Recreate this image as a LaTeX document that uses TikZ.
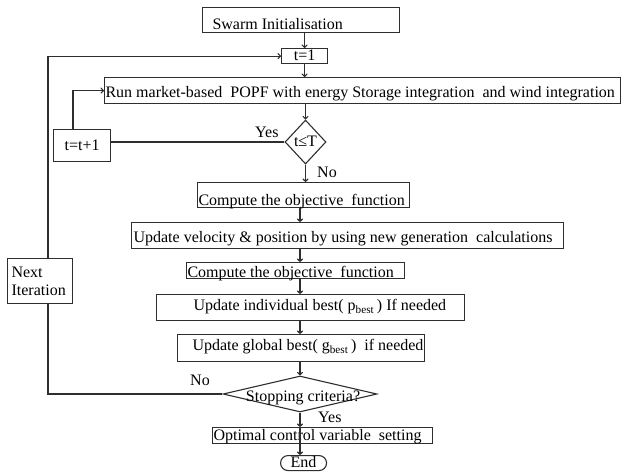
\documentclass[tikz,border=0pt]{standalone}
\usepackage{fontspec}
\setmainfont{Liberation Serif}
\usetikzlibrary{arrows.meta,shapes.geometric,calc}
\definecolor{linec}{HTML}{2E2E2E}
\begin{document}
\begin{tikzpicture}[x=1pt,y=-1pt,
  every node/.style={font=\fontsize{16}{18}\selectfont},
  box/.style={draw=linec, line width=1.1pt, anchor=north west, inner ysep=0pt, inner xsep=1pt},
  tb/.style 2 args={text height=#1pt, text depth=#2pt},
  arr/.style={draw=linec, line width=1.1pt, -{To[length=3.5pt,width=6pt]}},
  ln/.style={draw=linec, line width=1.1pt},
  lab/.style={inner sep=0pt, anchor=base west}]
\useasboundingbox (0,0) rectangle (622,472);
% boxes
\node[box, minimum width=197pt, minimum height=25pt, tb={22}{3}] (swarm) at (202,7) {\makebox[195pt][l]{\hspace*{9pt}Swarm Initialisation}};
\node[box, minimum width=46pt, minimum height=15pt, inner xsep=0pt, tb={12}{3}] (t1) at (281,48) {t=1};
\node[box, minimum width=516pt, minimum height=26pt, tb={19.7}{6.3}] (run) at (104,77) {\makebox[514pt][l]{Run market-based\ \ POPF with energy Storage integration\ \ and wind integration}};
\node[diamond, draw=linec, line width=1.1pt, minimum width=41pt, minimum height=44pt, inner sep=0pt, tb={10}{0.6}] (cond) at (305.5,142) {t≤T};
\node[box, minimum width=57pt, minimum height=32pt, inner xsep=0pt, tb={21}{11}] (tt) at (53,129) {t=t+1};
\node[box, minimum width=212pt, minimum height=25pt, tb={22.5}{2.5}] (comp1) at (197,182) {\makebox[210pt][l]{Compute the objective\ \ function}};
\node[box, minimum width=432pt, minimum height=26pt, tb={19.7}{6.3}] (vel) at (131,222) {\makebox[430pt][l]{\hspace*{1pt}Update velocity \& position by using new generation\ \ calculations}};
\node[box, minimum width=218pt, minimum height=16pt, tb={14.7}{1.3}] (comp2) at (186,262) {\makebox[216pt][l]{Compute the objective\ \ function}};
\node[box, minimum width=308pt, minimum height=26pt, tb={16}{10}] (indiv) at (156,294) {\makebox[306pt][l]{\hspace*{36pt}Update individual best( p\textsubscript{best}\,) If needed}};
\node[box, minimum width=247pt, minimum height=27pt, tb={16}{11}] (glob) at (177,334) {\makebox[245pt][l]{\hspace*{14pt}Update global best( g\textsubscript{best}\,)\ \ if needed}};
\node[diamond, draw=linec, line width=1.1pt, minimum width=154pt, minimum height=36pt, inner sep=0pt,
  label={[inner sep=0pt, anchor=base, yshift=-4pt, xshift=3pt]center:Stopping criteria?}] (stop) at (300,394) {};
\node[box, minimum width=220pt, minimum height=16pt, tb={13}{3}] (opt) at (212,427) {\makebox[218pt][l]{Optimal control variable\ \ setting}};
\node[box, rounded corners=7.5pt, minimum width=46pt, minimum height=15pt, inner xsep=0pt, tb={12}{3}] (endn) at (280,455) {End};
% labels
\node[lab] (yes1) at (255,137) {Yes};
\node[lab] (no1) at (317,177) {No};
\node[lab] (no2) at (190,385) {No};
\node[lab] (yes2) at (318,422) {Yes};
% helper coordinates
\coordinate (ax) at (300,0);
\coordinate (lx) at (48,0);
\coordinate (tx) at (73,0);
% connectors
\draw[arr] (t1.north |- swarm.south) -- (t1.north);
\draw[arr] (stop.west) -- (stop.west -| lx) |- (t1.west);
\draw[arr] (t1.south) -- (t1.south |- run.north);
\draw[arr] (cond.north |- run.south) -- (cond.north);
\draw[ln] (cond.west) -- (cond.west -| tt.east);
\draw[arr] (tx |- tt.north) |- (run.west);
\draw[arr] (cond.south) -- (cond.south |- comp1.north);
\draw[arr] (ax |- comp1.south) -- (ax |- vel.north);
\draw[arr] (ax |- vel.south) -- (ax |- comp2.north);
\draw[arr] (ax |- comp2.south) -- (ax |- indiv.north);
\draw[arr] (ax |- indiv.south) -- (ax |- glob.north);
\draw[arr] (ax |- glob.south) -- (stop.north);
\draw[arr] (stop.south) -- (stop.south |- opt.north);
\draw[arr] (ax |- opt.north) -- (ax |- endn.north);
% box over the loop line
\node[box, fill=white, minimum width=65pt, minimum height=45pt, text width=57pt, inner xsep=4pt, align=left] (next) at (7,258) {Next\\Iteration};
\end{tikzpicture}
\end{document}
